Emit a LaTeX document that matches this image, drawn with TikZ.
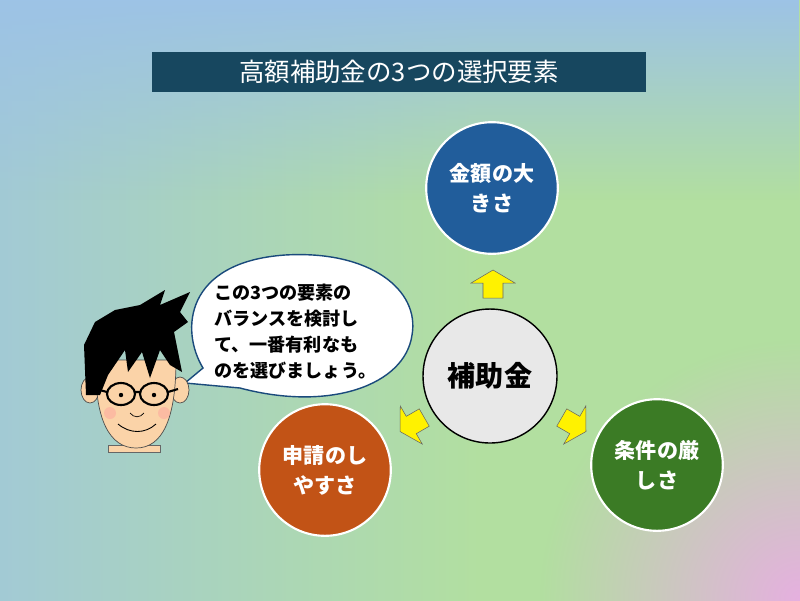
\documentclass[tikz,border=0pt]{standalone}
\usepackage{fontspec}
\setmainfont{Noto Sans CJK JP}
\usetikzlibrary{fadings,shapes.geometric,shapes.callouts}
\definecolor{bgblue}{HTML}{9DC3E6}
\definecolor{bggreen}{HTML}{B2DFA0}
\definecolor{bgpink}{HTML}{E6B0E0}
\definecolor{titlec}{HTML}{17475F}
\definecolor{bluec}{HTML}{215D9B}
\definecolor{orangec}{HTML}{C25316}
\definecolor{greenc}{HTML}{3B7B25}
\definecolor{skin}{HTML}{FBD3A8}
\pgfdeclarehorizontalshading{bgshade}{100bp}{color(0bp)=(bgblue); color(15bp)=(bgblue); color(55bp)=(bggreen); color(100bp)=(bggreen)}
\tikzfading[name=topfade, top color=transparent!0, bottom color=transparent!100]
\tikzfading[name=pinkfade, inner color=transparent!0, outer color=transparent!100]
\tikzset{
 big/.style={circle, draw=white, line width=1.2pt, minimum size=2.5cm, text=white, font=\bfseries\fontsize{12}{17}\selectfont, align=center, text width=2.1cm},
 yarrow/.pic={\filldraw[fill=yellow, draw=black!60, line width=0.3pt] (0,-15)--(22,-2)--(10,-2)--(10,13)--(-10,13)--(-10,-2)--(-22,-2)--cycle;}
}
\begin{document}
\begin{tikzpicture}[x=0.02cm,y=-0.02cm]
\useasboundingbox (0,0) rectangle (800,600);
\shade[shading=bgshade] (0,0) rectangle (800,600);
\fill[bgblue, path fading=topfade] (0,0) rectangle (800,200);
\begin{scope}
\clip (0,0) rectangle (800,600);
\fill[bgpink, path fading=pinkfade] (800,600) circle (260);
\end{scope}
\node[fill=titlec, minimum width=9.88cm, minimum height=0.8cm, text=white, font=\fontsize{14.5}{17}\selectfont] (title) at (399,72) {高額補助金の3つの選択要素};
\node[big, fill=bluec] (top) at (492,188) {金額の大\\きさ};
\node[circle, draw=black, line width=0.8pt, fill=black!9, minimum size=2.68cm, font=\bfseries\fontsize{16}{18}\selectfont] (center) at (490,376) {補助金};
\node[big, fill=orangec] (left) at (325,470) {申請のし\\やすさ};
\node[big, fill=greenc] (right) at (657,465) {条件の厳\\しさ};
\pic at (493,285) {yarrow};
\pic[rotate=120] at (413,424) {yarrow};
\pic[rotate=-120] at (573,424) {yarrow};
% bubble
\filldraw[fill=white, draw=bluec!80!black, line width=0.8pt] (185,383) -- (203,368) .. controls (180,330) and (185,262) .. (285,255) .. controls (370,250) and (420,290) .. (412,335) .. controls (405,385) and (330,412) .. (240,388) -- cycle;
\node[anchor=north west, align=left, font=\bfseries\fontsize{10.3}{14.7}\selectfont, inner sep=0pt] (bubble) at (214,284) {この3つの要素の\\バランスを検討し\\て、一番有利なも\\のを選びましょう。};
% character
\fill[skin, draw=black!60, line width=0.3pt] (108,445) rectangle (160,452);
\filldraw[fill=skin, draw=black!70, line width=0.4pt] (90,390) ellipse (9 and 13);
\filldraw[fill=skin, draw=black!70, line width=0.4pt] (180,390) ellipse (9 and 13);
\filldraw[fill=skin, draw=black!70, line width=0.4pt] (96,360) .. controls (94,420) and (110,448) .. (136,448) .. controls (162,448) and (176,420) .. (176,360) -- cycle;
\fill[black] (86,395) -- (84,345) -- (95,322) -- (115,310) -- (140,305) -- (165,290) -- (160,305) -- (190,292) -- (180,312) -- (188,322) -- (174,332) -- (182,372) -- (170,365) -- (160,350) -- (150,378) -- (142,352) -- (128,372) -- (125,350) -- (108,375) -- (100,395) -- cycle;
\draw[line width=1.2pt] (121,394) ellipse (14 and 11) (154,394) ellipse (14 and 11) (135,392)--(140,392) (107,392)--(96,389) (168,392)--(178,389);
\fill (121,395) circle (2.2) (154,395) circle (2.2);
\fill[pink!80!red, opacity=0.4] (110,413) circle (6) (164,413) circle (6);
\draw[line width=0.5pt] (118,424) .. controls (130,434) and (145,434) .. (156,424);
\draw[line width=0.4pt] (130,413) .. controls (134,418) and (140,418) .. (144,413);
\end{tikzpicture}
\end{document}
